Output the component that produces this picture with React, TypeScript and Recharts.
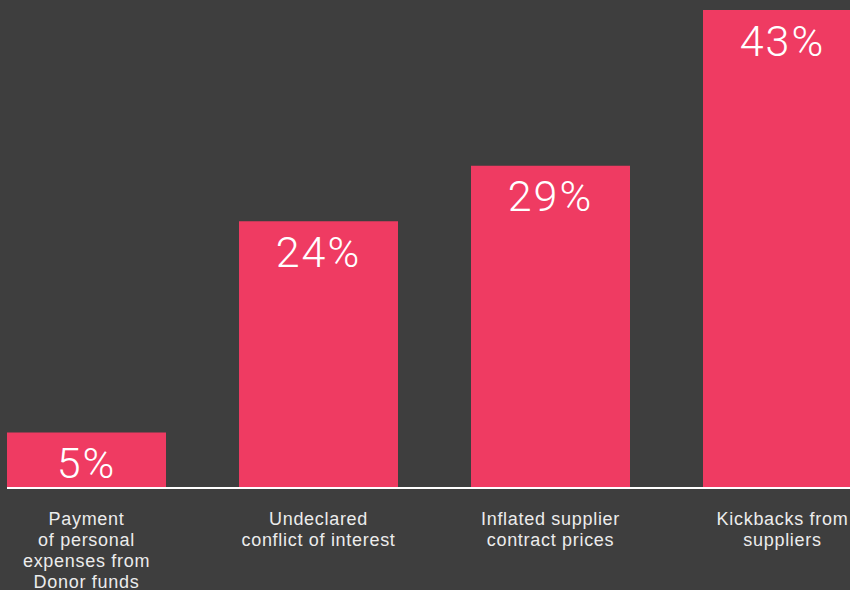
import { BarChart, Bar, XAxis, YAxis, LabelList } from 'recharts';

const categories = [
  'Payment\nof personal\nexpenses from\nDonor funds',
  'Undeclared\nconflict of interest',
  'Inflated supplier\ncontract prices',
  'Kickbacks from\nsuppliers',
];
const shares = [5, 24, 29, 43];

const data = categories.map((name, i) => ({ name, value: shares[i] }));

const BG = '#3e3e3e';
const BAR = '#ef3b62';

// multi-line category label under each bar
const CategoryTick = ({ x, y, payload }: any) => {
  const lines = String(payload.value).split('\n');
  return (
    <text
      x={x}
      y={y}
      textAnchor="middle"
      fill="#ececec"
      fontSize={18}
      letterSpacing={0.7}
      fontFamily="'Liberation Sans', Arial, sans-serif"
    >
      {lines.map((line, i) => (
        <tspan key={i} x={x} dy={i === 0 ? 29 : 21}>
          {line}
        </tspan>
      ))}
    </text>
  );
};

export default function App() {
  return (
    <div style={{ position: 'fixed', top: 0, left: 0, width: 850, height: 590, background: BG, overflow: 'hidden' }}>
      <BarChart
        width={850}
        height={590}
        data={data}
        margin={{ top: 10, right: 0, left: 7, bottom: 0 }}
        barCategoryGap={36.5}
      >
        <XAxis
          dataKey="name"
          height={102}
          padding={{ left: -36.5, right: -48.5 }}
          axisLine={{ stroke: '#ffffff', strokeWidth: 2 }}
          tickLine={false}
          interval={0}
          tick={<CategoryTick />}
        />
        <YAxis hide domain={[0, 43]} />
        <Bar dataKey="value" fill={BAR} isAnimationActive={false}>
          <LabelList
            dataKey="value"
            position="insideTop"
            offset={15}
            formatter={(v: any) => `${v}%`}
            fill="#ffffff"
            fontSize={43}
            fontWeight={300}
            letterSpacing={2}
            fontFamily="Roboto, 'Liberation Sans', sans-serif"
          />
        </Bar>
      </BarChart>
    </div>
  );
}
